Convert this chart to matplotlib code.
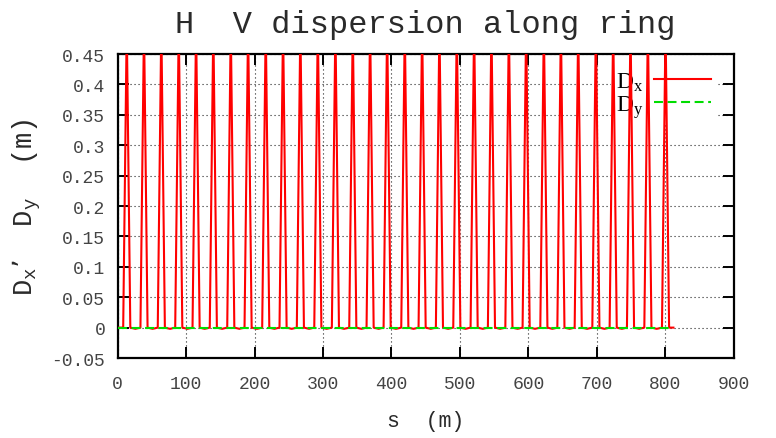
import matplotlib
matplotlib.use("Agg")
import matplotlib.pyplot as plt
import numpy as np

# Horizontal dispersion peaks (one per cell) along the ring
peak_s = [13.2, 38.4, 63.7, 89.2, 114.5, 139.7, 165.2, 190.5, 216.3, 241.6,
          266.9, 292.4, 318.1, 343.5, 368.8, 393.7, 419.5, 444.8, 470.1, 495.5,
          520.8, 546.1, 571.6, 596.8, 622.7, 647.6, 672.9, 698.7, 724.0, 749.3,
          774.7, 800.5]
peak_dx = [0.5, 0.5, 0.5, 0.5, 0.5, 0.5, 0.5, 0.5, 0.5, 0.5,
           0.5, 0.5, 0.5, 0.5, 0.5, 0.5, 0.5, 0.5, 0.5, 0.5,
           0.5, 0.5, 0.5, 0.5, 0.5, 0.5, 0.5, 0.5, 0.5, 0.5,
           0.5, 0.5]
half_width = 5.2        # half length of the dispersive region (m)
trough_dx = -0.002      # small residual between cells (m)
ring_length = 812.0

# Vertical dispersion (zero everywhere)
dy_s = [0.0, 812.0]
dy_val = [0.0, 0.0]

xticks = [0, 100, 200, 300, 400, 500, 600, 700, 800, 900]
yticks = [-0.05, 0, 0.05, 0.1, 0.15, 0.2, 0.25, 0.3, 0.35, 0.4, 0.45]
ytick_labels = ["-0.05", "0", "0.05", "0.1", "0.15", "0.2", "0.25",
                "0.3", "0.35", "0.4", "0.45"]

# Build the Dx polyline from the cell peaks
dx_s = [0.0]
dx_val = [0.0]
for i, (p, v) in enumerate(zip(peak_s, peak_dx)):
    dx_s += [p - half_width, p, p + half_width]
    dx_val += [0.0, v, 0.0]
    if i + 1 < len(peak_s):
        dx_s.append(0.5 * (p + peak_s[i + 1]))
        dx_val.append(trough_dx)
dx_s.append(ring_length)
dx_val.append(0.0)

mono = ["Liberation Mono", "DejaVu Sans Mono"]
serif = ["Liberation Serif", "DejaVu Serif"]

fig = plt.figure(figsize=(7.76, 4.39), dpi=100)
ax = fig.add_axes([0.1517, 0.1822, 0.9454 - 0.1517, 0.8747 - 0.1822])

ax.plot(dx_s, dx_val, color="#ff0000", lw=1.5, label=r"$\mathregular{D_x}$", zorder=3)
ax.plot(dy_s, dy_val, color="#00dd00", lw=1.5, dashes=(4.3, 2.2),
        label=r"$\mathregular{D_y}$", zorder=4)

ax.set_xlim(0, 900)
ax.set_ylim(-0.05, 0.45)
ax.set_xticks(xticks)
ax.set_yticks(yticks)
ax.set_yticklabels(ytick_labels)

for lab in ax.get_xticklabels() + ax.get_yticklabels():
    lab.set_family(mono)
    lab.set_fontsize(13)
    lab.set_color("#444444")

ax.tick_params(direction="in", length=8, width=1.4, top=True, right=True,
               color="black")
ax.tick_params(axis="x", pad=12)
ax.tick_params(axis="y", pad=9)

ax.set_axisbelow(True)
ax.grid(True, color="#222222", lw=0.8, dashes=(1, 2.6))

for sp in ax.spines.values():
    sp.set_linewidth(1.6)
    sp.set_color("black")

ax.set_title("H  V dispersion along ring", family=mono, fontsize=23,
             color="#2a2a2a", pad=16)
ax.set_xlabel("s  (m)", family=mono, fontsize=15.5, color="#2a2a2a", labelpad=13)
ax.set_ylabel(r"$\mathregular{D_x}$’  $\mathregular{D_y}$  (m)", family=mono,
              fontsize=19.5, color="#2a2a2a", labelpad=6)

leg = ax.legend(loc="upper right", bbox_to_anchor=(0.99, 1.0),
                markerfirst=False, prop={"family": serif, "size": 17},
                handlelength=2.4, handletextpad=0.45, labelspacing=0.0,
                borderpad=0.2, frameon=True, fancybox=False,
                facecolor="white", edgecolor="none", framealpha=1.0)
leg.set_zorder(2)

fig.savefig("out.png", dpi=100)
